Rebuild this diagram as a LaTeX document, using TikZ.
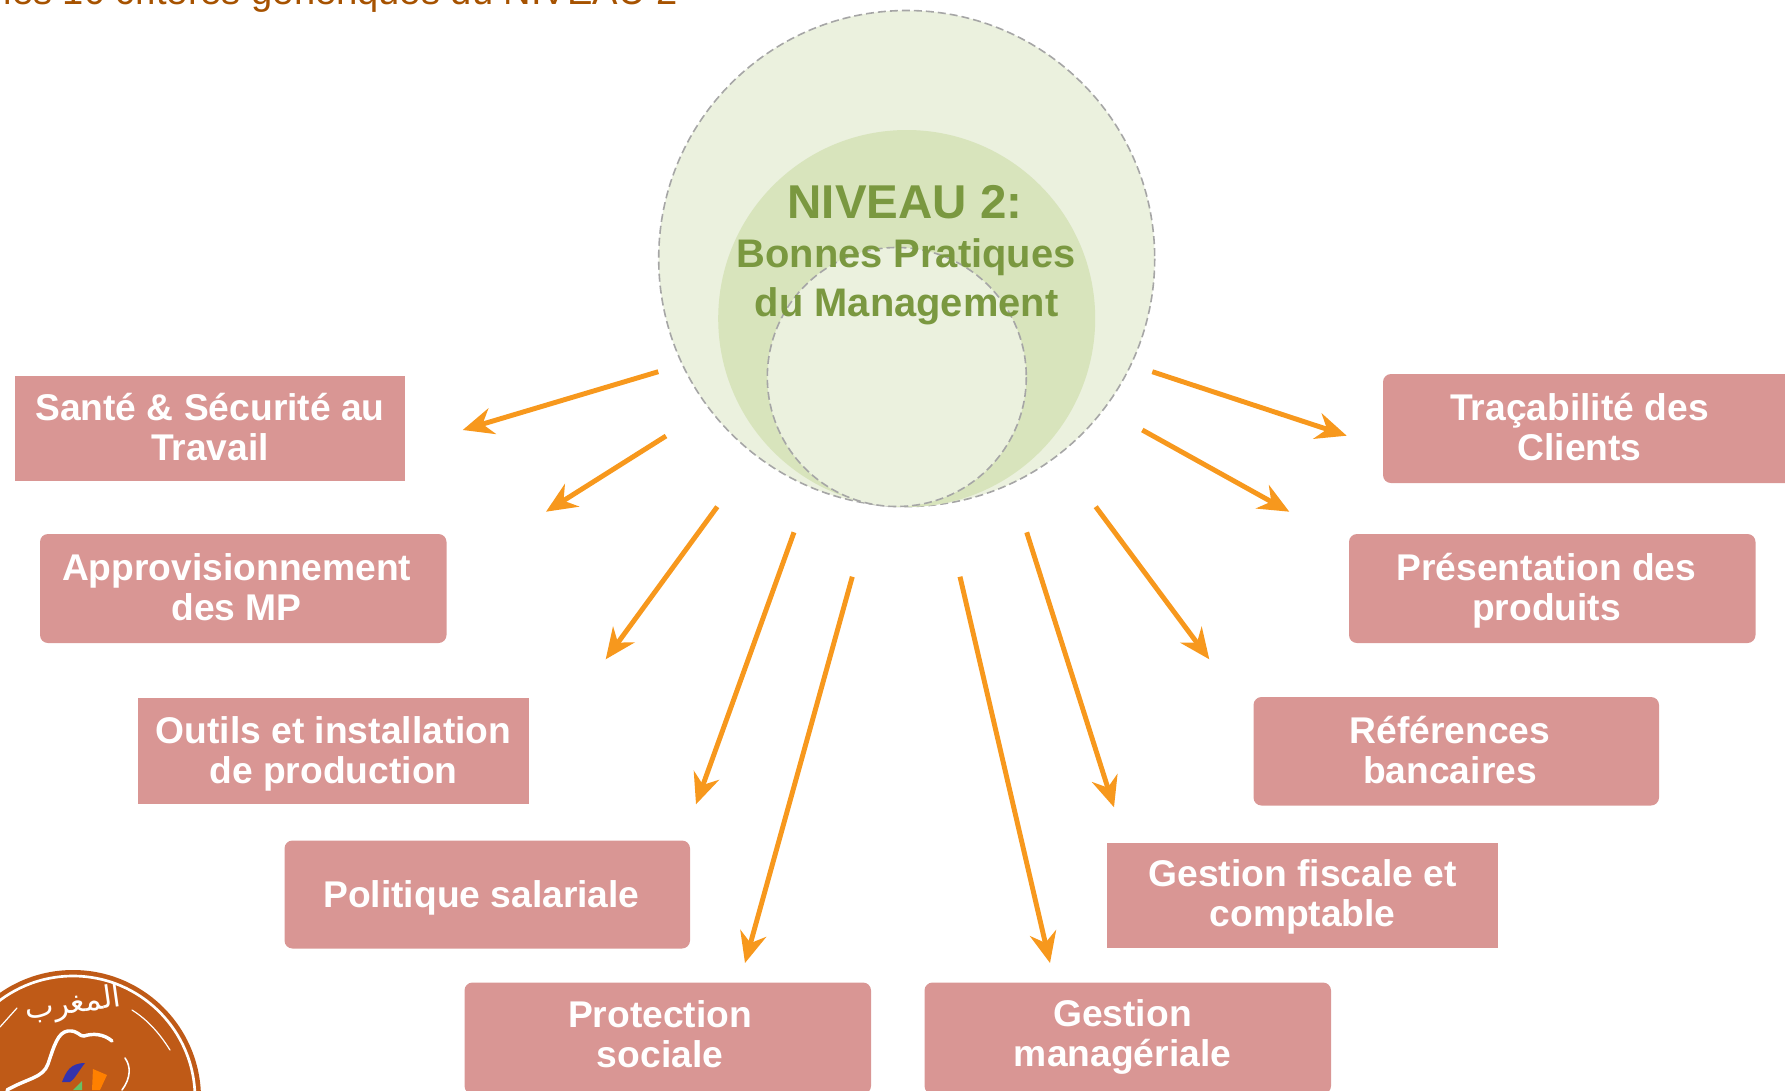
\documentclass[tikz,border=0pt]{standalone}
\usepackage{fontspec}
\usetikzlibrary{arrows.meta}
\setmainfont{Liberation Sans}
\newfontfamily\arabicfont[Script=Arabic]{DejaVu Sans}
\TeXXeTstate=1
\definecolor{pinkbox}{HTML}{D99694}
\definecolor{arroworange}{HTML}{F7981D}
\definecolor{paleg}{HTML}{EBF1DE}
\definecolor{midg}{HTML}{D8E4BC}
\definecolor{niveaug}{HTML}{7A9840}
\definecolor{titlebrown}{HTML}{A65200}
\definecolor{logobrown}{HTML}{BF5A17}
\definecolor{dashg}{HTML}{A6A6A6}
\tikzset{
  sharpbox/.style={fill=pinkbox,draw=none,inner sep=0pt,outer sep=0pt},
  roundbox/.style={sharpbox,rounded corners=6pt},
  lbl/.style={text=white,font=\fontsize{27.9}{30}\selectfont\bfseries,anchor=base,inner sep=0pt},
  arw/.style={draw=arroworange,line width=3.7pt,-{Stealth[length=23pt,width=20pt,inset=7.5pt]}},
  ring/.style={draw=dashg,line width=1.2pt,dash pattern=on 6pt off 3pt},
  niv/.style={text=niveaug,anchor=base,inner sep=0pt},
  logoline/.style={draw=white,line cap=round}
}
\newcommand\pbox[6]{\node[#1,minimum width={(#5-#3)*0.75pt},minimum height={(#6-#4)*0.75pt}] (#2) at ({(#3+#5)/2},{(#4+#6)/2}) {};}
\newcommand\plbl[4]{\node[lbl] (#1) at (#2,#3) {#4};}
\newcommand\parw[5]{\coordinate (#1s) at (#2,#3); \coordinate (#1e) at (#4,#5); \draw[arw] (#1s) -- (#1e);}
\begin{document}
\begin{tikzpicture}[x=0.75pt,y=-0.75pt]
\useasboundingbox (0,0) rectangle (1785,1090);
\clip (0,0) rectangle (1785,1090);
% title
\node[text=titlebrown,font=\fontsize{28.6}{30}\selectfont,anchor=base east,inner sep=0pt] (title) at (678,4) {les 10 critères génériques du NIVEAU 2};
% circles
\path[fill=paleg,ring] (906.7,258.5) circle [radius=248];
\path[fill=midg] (906.7,318.5) circle [radius=188.5];
\path[fill=paleg,ring] (896.8,377) circle [radius=129.5];
\node[niv,font=\fontsize{35.6}{38}\selectfont\bfseries] (niv1) at (905,218) {NIVEAU 2:};
\node[niv,font=\fontsize{29.9}{34}\selectfont\bfseries] (niv2) at (906,267.7) {Bonnes Pratiques};
\node[niv,font=\fontsize{29.9}{34}\selectfont\bfseries] (niv3) at (906.7,316) {du Management};
% boxes
\pbox{sharpbox}{b1}{15}{376}{405}{481}
\plbl{b1a}{210}{420}{Santé \& Sécurité au}\plbl{b1b}{210}{460.5}{Travail}
\pbox{roundbox}{b2}{40}{534}{446.5}{643}
\plbl{b2a}{236.7}{580}{Approvisionnement}\plbl{b2b}{236.7}{620.5}{des MP}
\pbox{sharpbox}{b3}{138}{698}{528.5}{804}
\plbl{b3a}{333.5}{743}{Outils et installation}\plbl{b3b}{333.5}{783}{de production}
\pbox{roundbox}{b4}{284.5}{840.5}{690}{948.5}
\plbl{b4a}{481.5}{907}{Politique salariale}
\pbox{roundbox}{b5}{464.5}{982.5}{871}{1094}
\plbl{b5a}{660}{1027.3}{Protection}\plbl{b5b}{660}{1067.6}{sociale}
\pbox{roundbox}{b6}{924.5}{982.5}{1331}{1094}
\plbl{b6a}{1122.5}{1026}{Gestion}\plbl{b6b}{1122.5}{1066}{managériale}
\pbox{sharpbox}{b7}{1107}{842.5}{1498}{947.5}
\plbl{b7a}{1302.6}{886.5}{Gestion fiscale et}\plbl{b7b}{1302.6}{926.5}{comptable}
\pbox{roundbox}{b8}{1253.5}{697}{1659}{805.5}
\plbl{b8a}{1450}{743}{Références}\plbl{b8b}{1450}{783}{bancaires}
\pbox{roundbox}{b9}{1349}{534}{1755.5}{643}
\plbl{b9a}{1546.5}{580}{Présentation des}\plbl{b9b}{1546.5}{620.5}{produits}
\pbox{roundbox}{b10}{1383}{374}{1800}{483}
\plbl{b10a}{1579.5}{420}{Traçabilité des}\plbl{b10b}{1579.5}{460.5}{Clients}
% arrows
\parw{a1}{658.3}{371.7}{462.7}{430}
\parw{a2}{666}{436}{546}{511.7}
\parw{a3}{717.3}{506.7}{605.7}{659.3}
\parw{a4}{794}{532.3}{696}{804.3}
\parw{a5}{852.3}{576.7}{745}{963}
\parw{a6}{960}{576.7}{1050}{963}
\parw{a7}{1026.7}{532.3}{1114}{807.3}
\parw{a8}{1095.7}{506.7}{1209.3}{659.3}
\parw{a9}{1142.3}{430}{1289.3}{511.7}
\parw{a10}{1152.3}{371.7}{1346.7}{435.7}
% logo
\path[fill=logobrown] (73,1098) circle [radius=128];
\draw[logoline,line width=2pt] (73,1098) circle [radius=122];
\draw[logoline,line width=0.9pt] (132,1010) .. controls (148,1020) and (160,1034) .. (170,1050);
\draw[logoline,line width=0.9pt] (0,1027) -- (17,1008);
\node[text=white,font=\arabicfont\fontsize{23}{24}\selectfont,inner sep=0pt,rotate=8] (logotext) at (73,1005) {\beginR المغرب\endR};
\draw[logoline,line width=2.6pt] (7,1090) .. controls (28,1078) and (43,1078) .. (48,1064) .. controls (54,1046) and (58,1032) .. (68,1031) .. controls (78,1030) and (80,1037) .. (84,1036) .. controls (93,1033) and (104,1034) .. (112,1041);
\draw[logoline,line width=1.2pt] (125,1058) .. controls (131,1066) and (131,1078) .. (122,1090);
\path[fill=blue!60!black!80] (62,1082) .. controls (66,1072) and (70,1063) .. (85,1063) .. controls (78,1072) and (74,1080) .. (70,1082) -- cycle;
\path[fill=orange] (93,1069) -- (107,1075) -- (100,1090) -- (92,1090) -- cycle;
\path[fill=green!60!black!60] (73,1090) -- (82,1081) -- (82,1090) -- cycle;
\end{tikzpicture}
\end{document}
